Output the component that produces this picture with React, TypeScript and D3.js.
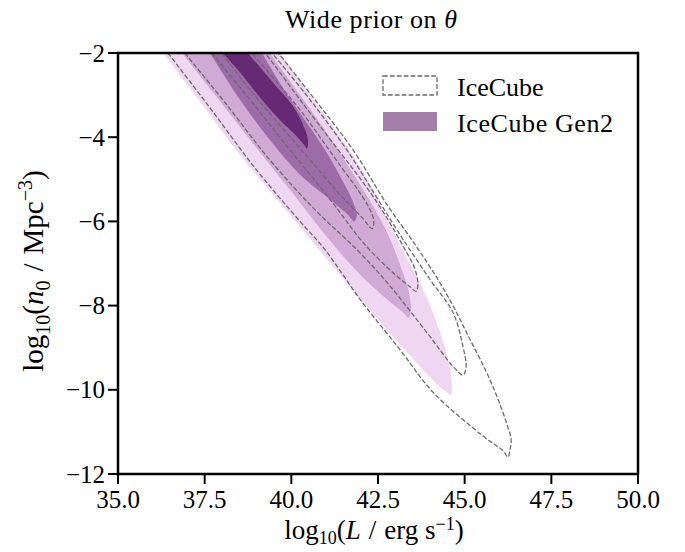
import React from 'react';
import * as d3 from 'd3';

const W = 685;
const H = 552;
const margin = { left: 118, right: 47, top: 53, bottom: 78 };

const xDomain: [number, number] = [35, 50];
const yDomain: [number, number] = [-12, -2];
const xTicks = [35, 37.5, 40, 42.5, 45, 47.5, 50];
const yTicks = [-12, -10, -8, -6, -4, -2];

// IceCube Gen2 filled credible regions (outer -> inner), points are [log10 L, log10 n0]
const gen2Outer: [number, number][] = [
  [35.78, -1.45], [36.30, -2.00], [37.37, -3.16], [38.52, -4.42], [39.96, -5.84], [41.40, -7.26],
  [42.50, -8.33], [43.51, -9.27], [44.23, -9.89], [44.52, -10.08], [44.61, -10.13], [44.63, -9.94],
  [44.58, -9.51], [44.40, -8.92], [44.14, -8.28], [43.80, -7.62], [43.28, -6.79], [42.70, -5.84],
  [42.04, -4.77], [41.17, -3.71], [40.39, -2.83], [39.67, -2.00], [39.15, -1.45],
];
const gen2Second: [number, number][] = [
  [36.33, -1.45], [36.85, -2.00], [37.80, -3.00], [38.81, -4.06], [39.96, -5.25], [40.97, -6.31],
  [41.84, -7.14], [42.70, -7.81], [43.19, -8.14], [43.39, -8.28], [43.45, -8.09], [43.37, -7.62],
  [43.13, -7.02], [42.79, -6.31], [42.33, -5.60], [41.75, -4.82], [41.06, -3.94], [40.25, -3.00],
  [39.38, -2.00], [38.87, -1.45],
];
const gen2Third: [number, number][] = [
  [37.22, -1.45], [37.65, -2.00], [38.52, -3.11], [39.38, -4.06], [40.25, -4.89], [41.12, -5.48],
  [41.63, -5.84], [41.81, -6.00], [41.89, -5.86], [41.75, -5.48], [41.46, -5.01], [40.97, -4.30],
  [40.39, -3.59], [39.76, -2.83], [39.15, -2.00], [38.75, -1.45],
];
const gen2Inner: [number, number][] = [
  [37.51, -1.45], [38.03, -2.00], [38.58, -2.52], [39.15, -3.11], [39.67, -3.59], [40.11, -3.94],
  [40.37, -4.18], [40.45, -4.27], [40.48, -4.06], [40.34, -3.71], [40.02, -3.23], [39.53, -2.76],
  [39.04, -2.28], [38.75, -2.00], [38.37, -1.45],
];

// IceCube dashed credible contours (outer -> inner)
const iceOuter: [number, number][] = [
  [35.92, -1.45], [36.44, -2.00], [37.65, -3.30], [38.95, -4.73], [40.25, -6.00], [40.97, -6.67],
  [41.98, -7.85], [43.13, -9.04], [44.09, -10.06], [45.53, -11.10], [46.11, -11.45], [46.25, -11.60],
  [46.31, -11.41], [46.34, -11.17], [46.22, -10.82], [45.96, -10.22], [45.59, -9.51], [45.15, -8.80],
  [44.72, -8.09], [44.23, -7.38], [43.57, -6.55], [42.76, -5.60], [41.78, -4.30], [40.68, -3.11],
  [39.62, -2.00], [39.04, -1.45],
];
const iceSecond: [number, number][] = [
  [36.41, -1.45], [36.93, -2.00], [38.09, -3.18], [39.38, -4.54], [40.68, -5.72], [41.89, -6.67],
  [42.76, -7.45], [43.91, -8.64], [44.66, -9.44], [44.95, -9.65], [45.04, -9.46], [44.95, -8.97],
  [44.66, -8.16], [44.00, -7.38], [43.13, -6.31], [42.41, -5.36], [41.60, -4.30], [40.54, -3.11],
  [39.44, -2.00], [38.87, -1.45],
];
const iceThird: [number, number][] = [
  [37.22, -1.45], [37.71, -2.00], [38.81, -3.11], [39.96, -4.30], [41.12, -5.48], [42.12, -6.55],
  [42.99, -7.26], [43.42, -7.55], [43.60, -7.66], [43.65, -7.50], [43.57, -7.14], [43.28, -6.67],
  [42.70, -5.84], [42.12, -5.13], [41.35, -4.30], [40.25, -3.11], [39.24, -2.00], [38.66, -1.45],
];
const iceInner: [number, number][] = [
  [37.57, -1.45], [38.00, -2.00], [38.81, -2.88], [39.67, -3.71], [40.54, -4.54], [41.40, -5.36],
  [42.04, -5.91], [42.33, -6.17], [42.38, -6.00], [42.27, -5.72], [41.92, -5.25], [41.46, -4.73],
  [40.88, -4.06], [40.25, -3.35], [39.53, -2.64], [38.87, -2.00], [38.37, -1.45],
];

const gen2Regions = [gen2Outer, gen2Second, gen2Third, gen2Inner];
const gen2Colors = ['#efd7f2', '#d0a9d4', '#9d6ba7', '#652a73'];
const iceRegions = [iceOuter, iceSecond, iceThird, iceInner];
const legendLabels = ['IceCube', 'IceCube Gen2'];
const legendGen2Color = '#a37fa9';
const dashColor = '#6b6b6b';

const FONT = '"Liberation Serif", "DejaVu Serif", serif';

export default function App() {
  const iw = W - margin.left - margin.right;
  const ih = H - margin.top - margin.bottom;
  const x = d3.scaleLinear().domain(xDomain).range([margin.left, margin.left + iw]);
  const y = d3.scaleLinear().domain(yDomain).range([margin.top + ih, margin.top]);
  const line = d3
    .line<[number, number]>()
    .x((d) => x(d[0]))
    .y((d) => y(d[1]))
    .curve(d3.curveCatmullRomClosed.alpha(0.5));

  const fmtX = (v: number) => v.toFixed(1);
  const fmtY = (v: number) => (v < 0 ? '\u2212' + Math.abs(v) : String(v));
  const dash = '4.8,2.1';

  return (
    <svg
      width={W}
      height={H}
      style={{ position: 'absolute', left: 0, top: 0, background: '#fff' }}
      fontFamily={FONT}
    >
      <defs>
        <clipPath id="plotclip">
          <rect x={margin.left} y={margin.top} width={iw} height={ih} />
        </clipPath>
      </defs>
      <rect x={0} y={0} width={W} height={H} fill="#fff" />
      <g clipPath="url(#plotclip)">
        {gen2Regions.map((r, i) => (
          <path key={'g' + i} d={line(r) || ''} fill={gen2Colors[i]} stroke="none" />
        ))}
        {iceRegions.map((r, i) => (
          <path
            key={'c' + i}
            d={line(r) || ''}
            fill="none"
            stroke={dashColor}
            strokeWidth={1.3}
            strokeDasharray={dash}
          />
        ))}
      </g>

      {/* ticks */}
      {xTicks.map((t) => (
        <g key={'xt' + t}>
          <line x1={x(t)} x2={x(t)} y1={margin.top + ih} y2={margin.top + ih + 10} stroke="#000" strokeWidth={2} />
          <text x={x(t)} y={margin.top + ih + 34} textAnchor="middle" fontSize={25}>
            {fmtX(t)}
          </text>
        </g>
      ))}
      {yTicks.map((t) => (
        <g key={'yt' + t}>
          <line x1={margin.left - 10} x2={margin.left} y1={y(t)} y2={y(t)} stroke="#000" strokeWidth={2} />
          <text x={margin.left - 13} y={y(t)} dy="0.34em" textAnchor="end" fontSize={25}>
            {fmtY(t)}
          </text>
        </g>
      ))}

      {/* frame */}
      <rect x={margin.left} y={margin.top} width={iw} height={ih} fill="none" stroke="#000" strokeWidth={2.5} />

      {/* legend */}
      <rect x={383} y={76} width={54} height={19} fill="none" stroke={dashColor} strokeWidth={1.3} strokeDasharray={dash} />
      <text x={457} y={96} fontSize={26}>{legendLabels[0]}</text>
      <rect x={383} y={112} width={54} height={19} fill={legendGen2Color} />
      <text x={457} y={132} fontSize={26} textLength={156} lengthAdjust="spacing">{legendLabels[1]}</text>

      {/* title */}
      <text x={371} y={28} textAnchor="middle" fontSize={26} textLength={172} lengthAdjust="spacing">
        Wide prior on <tspan fontStyle="italic">θ</tspan>
      </text>

      {/* x label */}
      <text x={374} y={539} textAnchor="middle" fontSize={27}>
        log<tspan dy={5} fontSize={18}>10</tspan>
        <tspan dy={-5}>(</tspan>
        <tspan fontStyle="italic">L</tspan>
        <tspan dx={8}>/</tspan>
        <tspan dx={8}>erg s</tspan>
        <tspan dy={-9} fontSize={18}>−1</tspan>
        <tspan dy={9}>)</tspan>
      </text>

      {/* y label */}
      <text transform={`translate(43, 271) rotate(-90)`} textAnchor="middle" fontSize={29}>
        log<tspan dy={7} fontSize={20}>10</tspan>
        <tspan dy={-7}>(</tspan>
        <tspan fontStyle="italic">n</tspan>
        <tspan dy={7} fontSize={20}>0</tspan>
        <tspan dy={-7} dx={9}>/</tspan>
        <tspan dx={9}>Mpc</tspan>
        <tspan dy={-11} fontSize={20}>−3</tspan>
        <tspan dy={11}>)</tspan>
      </text>
    </svg>
  );
}
